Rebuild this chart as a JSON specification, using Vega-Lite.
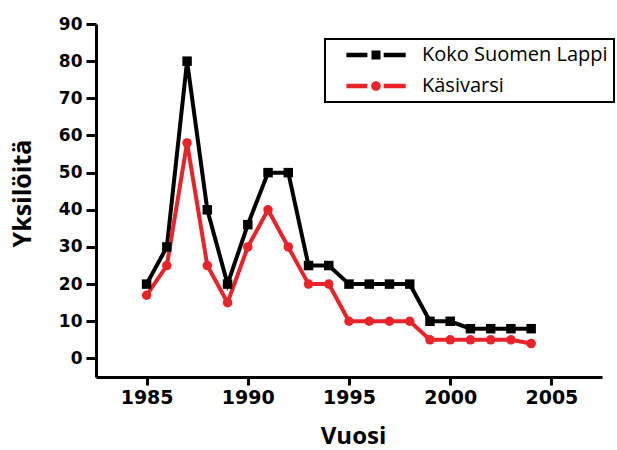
{
  "$schema": "https://vega.github.io/schema/vega-lite/v6.json",
  "width": 506,
  "height": 353,
  "autosize": {"type": "none"},
  "padding": {"left": 96, "top": 24, "right": 15, "bottom": 73},
  "background": "white",
  "config": {
    "view": {"stroke": null},
    "axis": {
      "grid": false,
      "domainColor": "black",
      "domainWidth": 3,
      "tickColor": "black",
      "tickWidth": 3,
      "labelColor": "black",
      "labelFont": "DejaVu Sans",
      "labelFontWeight": "bold",
      "titleColor": "black",
      "titleFont": "Open Sans",
      "titleFontWeight": "bold"
    }
  },
  "data": {
    "values": [
      {"year": 1985, "series": "Koko Suomen Lappi", "value": 20},
      {"year": 1986, "series": "Koko Suomen Lappi", "value": 30},
      {"year": 1987, "series": "Koko Suomen Lappi", "value": 80},
      {"year": 1988, "series": "Koko Suomen Lappi", "value": 40},
      {"year": 1989, "series": "Koko Suomen Lappi", "value": 20},
      {"year": 1990, "series": "Koko Suomen Lappi", "value": 36},
      {"year": 1991, "series": "Koko Suomen Lappi", "value": 50},
      {"year": 1992, "series": "Koko Suomen Lappi", "value": 50},
      {"year": 1993, "series": "Koko Suomen Lappi", "value": 25},
      {"year": 1994, "series": "Koko Suomen Lappi", "value": 25},
      {"year": 1995, "series": "Koko Suomen Lappi", "value": 20},
      {"year": 1996, "series": "Koko Suomen Lappi", "value": 20},
      {"year": 1997, "series": "Koko Suomen Lappi", "value": 20},
      {"year": 1998, "series": "Koko Suomen Lappi", "value": 20},
      {"year": 1999, "series": "Koko Suomen Lappi", "value": 10},
      {"year": 2000, "series": "Koko Suomen Lappi", "value": 10},
      {"year": 2001, "series": "Koko Suomen Lappi", "value": 8},
      {"year": 2002, "series": "Koko Suomen Lappi", "value": 8},
      {"year": 2003, "series": "Koko Suomen Lappi", "value": 8},
      {"year": 2004, "series": "Koko Suomen Lappi", "value": 8},
      {"year": 1985, "series": "Käsivarsi", "value": 17},
      {"year": 1986, "series": "Käsivarsi", "value": 25},
      {"year": 1987, "series": "Käsivarsi", "value": 58},
      {"year": 1988, "series": "Käsivarsi", "value": 25},
      {"year": 1989, "series": "Käsivarsi", "value": 15},
      {"year": 1990, "series": "Käsivarsi", "value": 30},
      {"year": 1991, "series": "Käsivarsi", "value": 40},
      {"year": 1992, "series": "Käsivarsi", "value": 30},
      {"year": 1993, "series": "Käsivarsi", "value": 20},
      {"year": 1994, "series": "Käsivarsi", "value": 20},
      {"year": 1995, "series": "Käsivarsi", "value": 10},
      {"year": 1996, "series": "Käsivarsi", "value": 10},
      {"year": 1997, "series": "Käsivarsi", "value": 10},
      {"year": 1998, "series": "Käsivarsi", "value": 10},
      {"year": 1999, "series": "Käsivarsi", "value": 5},
      {"year": 2000, "series": "Käsivarsi", "value": 5},
      {"year": 2001, "series": "Käsivarsi", "value": 5},
      {"year": 2002, "series": "Käsivarsi", "value": 5},
      {"year": 2003, "series": "Käsivarsi", "value": 5},
      {"year": 2004, "series": "Käsivarsi", "value": 4}
    ]
  },
  "encoding": {
    "x": {
      "field": "year",
      "type": "quantitative",
      "scale": {"domain": [1982.5, 2007.5], "nice": false, "zero": false},
      "axis": {
        "values": [1985, 1990, 1995, 2000, 2005],
        "format": "d",
        "title": "Vuosi",
        "labelFontSize": 19,
        "tickSize": 8,
        "labelPadding": 3,
        "titleFontSize": 24,
        "titleX": 257,
        "titleY": 66,
        "titleAlign": "center",
        "titleBaseline": "alphabetic"
      }
    },
    "y": {
      "field": "value",
      "type": "quantitative",
      "scale": {"domain": [-5, 90], "nice": false, "zero": false},
      "axis": {
        "values": [0, 10, 20, 30, 40, 50, 60, 70, 80, 90],
        "title": "Yksilöitä",
        "labelFontSize": 17,
        "tickSize": 10,
        "labelPadding": 4,
        "titleFontSize": 25,
        "titleAngle": -90,
        "titleX": -66,
        "titleY": 169,
        "titleAlign": "center",
        "titleBaseline": "alphabetic"
      }
    },
    "color": {
      "field": "series",
      "type": "nominal",
      "scale": {"domain": ["Koko Suomen Lappi", "Käsivarsi"], "range": ["#000000", "#e8232a"]},
      "legend": {
        "title": null,
        "orient": "none",
        "legendX": 229,
        "legendY": 15,
        "padding": 6,
        "rowPadding": 11,
        "strokeColor": "black",
        "fillColor": "white",
        "symbolSize": 400,
        "symbolOffset": 35,
        "labelOffset": 36,
        "labelFont": "Open Sans",
        "labelFontSize": 20,
        "labelColor": "black",
        "labelLimit": 300,
        "encode": {
          "legend": {"update": {"strokeWidth": {"value": 2}}},
          "symbols": {
            "update": {
              "shape": {"signal": "datum.value === 'Käsivarsi' ? 'M-2.96,-0.22H-0.86V0.22H-2.96Z M0.48,0A0.48,0.48,0,1,1,-0.48,0A0.48,0.48,0,1,1,0.48,0Z M0.77,-0.22H2.97V0.22H0.77Z' : 'M-2.96,-0.22H-0.86V0.22H-2.96Z M-0.45,-0.45H0.45V0.45H-0.45Z M0.77,-0.22H2.97V0.22H0.77Z'"},
              "size": {"value": 400},
              "fill": {"scale": "color", "field": "value"},
              "fillOpacity": {"value": 1},
              "opacity": {"value": 1},
              "strokeWidth": {"value": 0}
            }
          }
        }
      }
    }
  },
  "layer": [
    {
      "mark": {"type": "line", "strokeWidth": 4}
    },
    {
      "transform": [{"filter": "datum.series === 'Koko Suomen Lappi'"}],
      "mark": {"type": "point", "shape": "square", "filled": true, "size": 90, "opacity": 1}
    },
    {
      "transform": [{"filter": "datum.series === 'Käsivarsi'"}],
      "mark": {"type": "point", "shape": "circle", "filled": true, "size": 90, "opacity": 1}
    }
  ]
}
